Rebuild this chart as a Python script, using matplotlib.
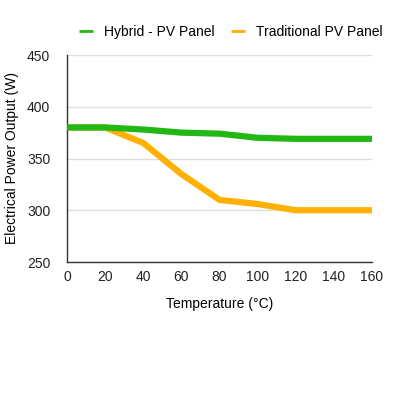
import matplotlib
matplotlib.use("Agg")
import matplotlib.pyplot as plt

plt.rcParams["font.family"] = ["Liberation Sans", "DejaVu Sans"]

temps = [0, 20, 40, 60, 80, 100, 120, 140, 160]
hybrid = [380, 380, 378, 375, 374, 370, 369, 369, 369]
traditional = [380, 380, 365, 335, 310, 306, 300, 300, 300]

fig = plt.figure(figsize=(4, 4), dpi=100)
ax = fig.add_axes([67 / 400, 1 - 262 / 400, (372 - 67) / 400, (262 - 55) / 400])

ax.plot(temps, hybrid, color="#22b814", lw=4.5, label="Hybrid - PV Panel", solid_capstyle="butt", zorder=3)
ax.plot(temps, traditional, color="#ffb000", lw=4.5, label="Traditional PV Panel", solid_capstyle="butt", zorder=2)

ax.set_xlim(0, 160)
ax.set_ylim(250, 450)
ax.set_xticks(range(0, 161, 20))
ax.set_yticks(range(250, 451, 50))
ax.grid(axis="y", color="#dddddd", lw=1)
ax.set_axisbelow(True)
for s in ["top", "right"]:
    ax.spines[s].set_visible(False)
for s in ["left", "bottom"]:
    ax.spines[s].set_color("#333333")
    ax.spines[s].set_linewidth(1)
ax.tick_params(length=0, labelsize=10, colors="#222222")
ax.tick_params(axis="y", pad=12)
ax.tick_params(axis="x", pad=6)
ax.set_xlabel("Temperature (°C)", fontsize=10, labelpad=9)
ax.set_ylabel("Electrical Power Output (W)", fontsize=10, labelpad=6)

leg = fig.legend(loc="center", bbox_to_anchor=(0.577, 1 - 32 / 400), ncol=2, frameon=False,
                 fontsize=10, handlelength=1.0, columnspacing=1.2)
for h in leg.get_lines():
    h.set_linewidth(2)

fig.savefig("out.png", dpi=100)
